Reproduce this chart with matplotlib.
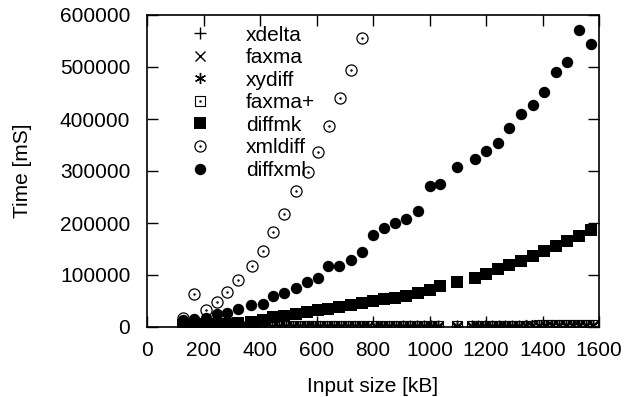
import numpy as np
import matplotlib
matplotlib.use('Agg')
import matplotlib.pyplot as plt

plt.rcParams['font.family'] = ['Liberation Sans', 'DejaVu Sans']
plt.rcParams['font.size'] = 15

# shared sample sizes [kB] for diffmk / diffxml
x_main = [126, 167, 208, 247, 284, 321, 368, 410, 447, 486, 526, 565, 604, 642, 681, 721,
          760, 801, 840, 878, 917, 958, 1000, 1037, 1096, 1160, 1200, 1241, 1283, 1325,
          1365, 1406, 1447, 1488, 1530, 1570]

diffxml = [13500, 14800, 18000, 25500, 27500, 34000, 42300, 45000, 60000, 65000, 75000,
           86500, 94000, 117000, 117000, 129000, 145000, 176000, 191000, 200600, 207000,
           224000, 271000, 275600, 308000, 324000, 338000, 353000, 383000, 410000, 427000,
           452500, 491000, 509600, 571000, 545000]

diffmk = [4000, 4500, 5000, 5500, 6000, 7000, 10000, 13000, 19000, 22000, 25500, 29000,
          32000, 35500, 39000, 42000, 46000, 49500, 53000, 56000, 59000, 66000, 72000, 79000,
          87000, 93600, 102500, 111000, 118600, 127000, 136500, 146000, 155700, 165000,
          175000, 186000]

x_xmldiff = [126, 167, 208, 247, 284, 321, 370, 410, 447, 486, 526, 569, 606, 644, 683, 721, 760]
xmldiff = [17000, 64000, 33000, 49000, 68000, 90000, 117000, 147000, 183000, 218000, 261000,
           298000, 337000, 386500, 441000, 494000, 556000]

# the fast tools, measured on every file
x_dense = [126, 150, 175, 199, 224, 248, 272, 297, 321, 345, 370, 394, 419, 443, 467, 492,
           516, 540, 565, 589, 614, 638, 662, 687, 711, 735, 760, 784, 809, 833, 857, 882,
           906, 930, 955, 979, 1004, 1030, 1099, 1149, 1173, 1197, 1221, 1245, 1268, 1292,
           1316, 1340, 1364, 1388, 1411, 1435, 1459, 1483, 1507, 1530, 1554, 1578]

xdelta = [200, 200, 250, 250, 300, 300, 350, 350, 400, 400, 450, 450, 500, 500, 550, 550,
          600, 600, 650, 650, 700, 700, 750, 750, 800, 800, 850, 850, 900, 900, 950, 950,
          1000, 1000, 1050, 1050, 1100, 1100, 1150, 1200, 1200, 1250, 1250, 1300, 1300,
          1350, 1350, 1400, 1400, 1450, 1450, 1500, 1500, 1550, 1550, 1600, 1600, 1650]
faxma = [300, 350, 400, 450, 500, 550, 600, 650, 700, 750, 800, 850, 900, 950, 1000, 1050,
         1100, 1150, 1200, 1250, 1300, 1350, 1400, 1450, 1500, 1550, 1600, 1650, 1700, 1750,
         1800, 1850, 1900, 1950, 2000, 2050, 2100, 2150, 2250, 2300, 2350, 2400, 2450, 2500,
         2550, 2600, 2650, 2700, 2750, 2800, 2850, 2900, 2950, 3000, 3050, 3100, 3150, 3200]
xydiff = [500, 550, 600, 650, 700, 750, 800, 850, 900, 950, 1000, 1050, 1100, 1150, 1200,
          1250, 1300, 1350, 1400, 1450, 1500, 1550, 1600, 1650, 1700, 1750, 1800, 1850, 1900,
          1950, 2000, 2050, 2100, 2150, 2200, 2250, 2300, 2350, 2450, 2500, 2550, 2600, 2650,
          2700, 2750, 2800, 2850, 2900, 2950, 3000, 3050, 3100, 3150, 3200, 3250, 3300, 3350, 3400]
faxma_plus = [400, 450, 500, 550, 600, 650, 700, 750, 800, 850, 900, 950, 1000, 1050, 1100,
              1150, 1200, 1250, 1300, 1350, 1400, 1450, 1500, 1550, 1600, 1650, 1700, 1750,
              1800, 1850, 1900, 1950, 2000, 2050, 2100, 2150, 2200, 2250, 2350, 2400, 2450,
              2500, 2550, 2600, 2650, 2700, 2750, 2800, 2850, 2900, 2950, 3000, 3050, 3100,
              3150, 3200, 3250, 3300]

fig = plt.figure(figsize=(6.26, 3.97), dpi=100)
ax = fig.add_axes([147 / 626, 1 - 327 / 397, 452 / 626, 312 / 397])

ms = 8
h_xdelta, = ax.plot(x_dense, xdelta, ls='none', marker='+', ms=ms, mew=1.0, color='black')
h_faxma, = ax.plot(x_dense, faxma, ls='none', marker='x', ms=ms * 0.85, mew=1.0, color='black')
h_xydiff, = ax.plot(x_dense, xydiff, ls='none', marker=(6, 2, 0), ms=ms, mew=1.0, color='black')
h_fp1, = ax.plot(x_dense, faxma_plus, ls='none', marker='s', ms=ms * 0.85, mew=0.8,
                 mfc='none', color='black')
h_fp2, = ax.plot(x_dense, faxma_plus, ls='none', marker='.', ms=1.5, color='black')
h_diffmk, = ax.plot(x_main, diffmk, ls='none', marker='s', ms=9, mew=0, color='black')
h_xm1, = ax.plot(x_xmldiff, xmldiff, ls='none', marker='o', ms=8, mew=0.9, mfc='white',
                 color='black')
h_xm2, = ax.plot(x_xmldiff, xmldiff, ls='none', marker='.', ms=1.5, color='black')
h_diffxml, = ax.plot(x_main, diffxml, ls='none', marker='o', ms=8.2, mew=0, color='black')

ax.set_xlim(0, 1600)
ax.set_ylim(0, 600000)
ax.set_xticks(np.arange(0, 1601, 200))
ax.set_yticks(np.arange(0, 600001, 100000))
ax.ticklabel_format(style='plain', useOffset=False)
ax.tick_params(direction='in', length=8, width=1, top=True, right=True)
ax.tick_params(axis='y', pad=12)
ax.tick_params(axis='x', pad=10)
for s in ax.spines.values():
    s.set_linewidth(1.2)

ax.set_xlabel('Input size [kB]', labelpad=12)
ax.set_ylabel('Time [mS]', labelpad=20)

handles = [h_xdelta, h_faxma, h_xydiff, (h_fp1, h_fp2), h_diffmk, (h_xm1, h_xm2), h_diffxml]
labels = ['xdelta', 'faxma', 'xydiff', 'faxma+', 'diffmk', 'xmldiff', 'diffxml']
ax.legend(handles, labels, loc='upper left', bbox_to_anchor=(0.095, 0.966), frameon=False,
          borderpad=0, borderaxespad=0, handlelength=1.0, handletextpad=1.7,
          labelspacing=0.17)

fig.savefig('out.png', dpi=100)
